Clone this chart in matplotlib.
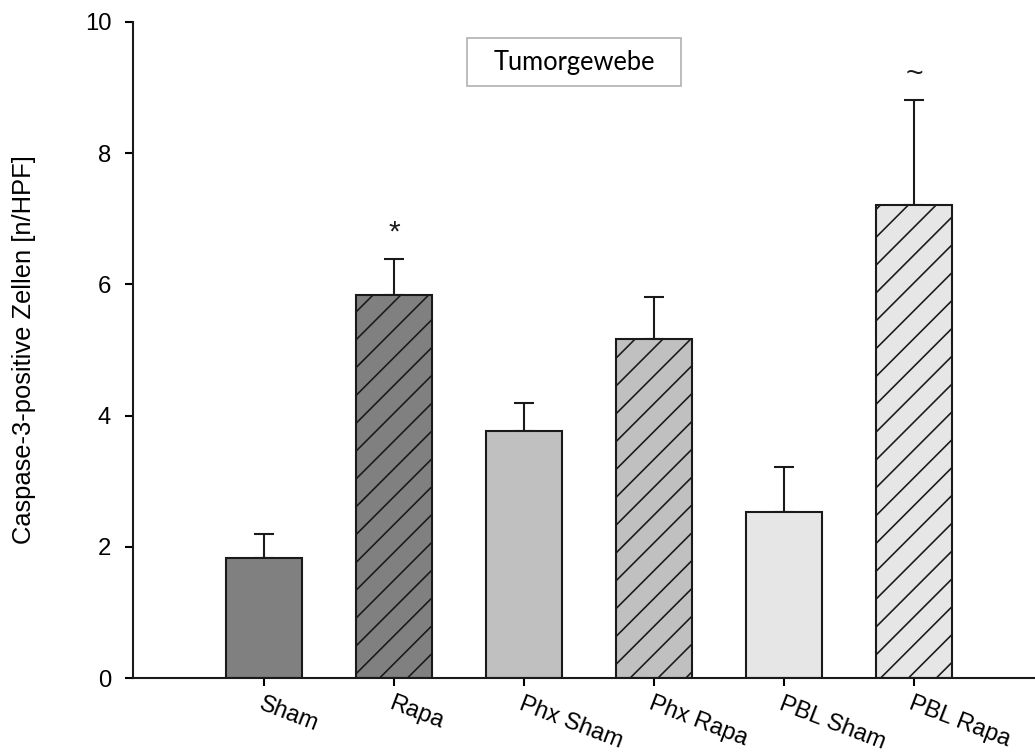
import matplotlib
matplotlib.use('Agg')
import matplotlib.pyplot as plt
from matplotlib.patches import Rectangle
import numpy as np

groups = ['Sham', 'Rapa', 'Phx Sham', 'Phx Rapa', 'PBL Sham', 'PBL Rapa']
means = [1.83, 5.84, 3.77, 5.16, 2.53, 7.21]
sem = [0.36, 0.55, 0.42, 0.65, 0.68, 1.60]
marks = ['', '*', '', '', '', '~']
fills = ['#808080', '#808080', '#c0c0c0', '#c0c0c0', '#e6e6e6', '#e6e6e6']
hatches = ['', '//', '', '//', '', '//']

DPI = 167
plt.rcParams['font.family'] = ['Liberation Sans', 'DejaVu Sans']
plt.rcParams['hatch.linewidth'] = 0.7
plt.rcParams['hatch.color'] = '#1a1a1a'

fig = plt.figure(figsize=(1035 / DPI, 753 / DPI), dpi=DPI)
ax = fig.add_axes([0.1285, 0.0996, 0.8715, 0.8712])

x = np.arange(len(groups))
for i in range(len(groups)):
    ax.bar(x[i], means[i], width=0.59, color=fills[i], edgecolor='#1a1a1a',
           linewidth=0.9, hatch=hatches[i], zorder=2)
ax.errorbar(x, means, yerr=[np.zeros(len(sem)), sem], fmt='none',
            ecolor='#1a1a1a', elinewidth=0.9, capsize=4.1, capthick=0.9, zorder=1)

# significance marks above the error bars
for i, m in enumerate(marks):
    if m:
        ax.text(x[i], means[i] + sem[i] + 0.4, m, ha='center', va='center',
                fontsize=13, color='#1a1a1a')

ax.set_xlim(-1.008, 5.93)
ax.set_ylim(0, 10)
ax.set_yticks([0, 2, 4, 6, 8, 10])
ax.set_xticks(x)
ax.set_xticklabels(groups, rotation=-21, ha='left', va='top',
                   rotation_mode='anchor', fontsize=10.2)
ax.tick_params(axis='y', labelsize=10.3, length=3.4, width=0.9, direction='out', pad=6)
ax.tick_params(axis='x', length=3.4, width=0.9, direction='out', pad=3)
for s in ['top', 'right']:
    ax.spines[s].set_visible(False)
for s in ['left', 'bottom']:
    ax.spines[s].set_linewidth(0.9)
    ax.spines[s].set_color('#1a1a1a')

ax.set_ylabel('Caspase-3-positive Zellen [n/HPF]', fontsize=11, labelpad=21)

# title box
ax.add_patch(Rectangle((0.370, 0.902), 0.2375, 0.0736, transform=ax.transAxes,
                       fc='white', ec='#b0b0b0', lw=0.7, zorder=3))
ax.text(0.489, 0.939, 'Tumorgewebe', transform=ax.transAxes, ha='center',
        va='center', fontsize=11, family=['Lato', 'DejaVu Sans'], zorder=4)

fig.savefig('out.png', dpi=DPI)
